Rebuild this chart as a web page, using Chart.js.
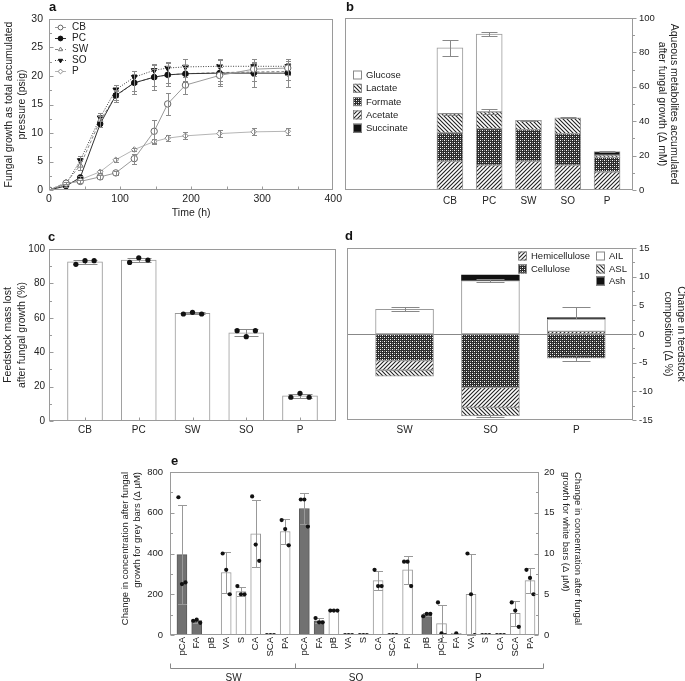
<!DOCTYPE html>
<html><head><meta charset="utf-8">
<script src="https://cdn.jsdelivr.net/npm/chart.js@4.4.0/dist/chart.umd.min.js"></script>
<style>
html,body{margin:0;padding:0;background:#fff;width:685px;height:681px;overflow:hidden;position:relative;font-family:'Liberation Sans',Arial,sans-serif}
canvas{position:absolute}
.lbl{position:absolute;font-weight:bold;font-size:13px;color:#111;line-height:13px}
</style></head><body>
<canvas id="ca" style="left:0;top:0;width:345px;height:225px" width="345" height="225"></canvas>
<canvas id="cb" style="left:340px;top:0;width:345px;height:225px" width="345" height="225"></canvas>
<canvas id="cc" style="left:0;top:225px;width:345px;height:215px" width="345" height="215"></canvas>
<canvas id="cd" style="left:340px;top:225px;width:345px;height:215px" width="345" height="215"></canvas>
<canvas id="ce" style="left:100px;top:450px;width:495px;height:231px" width="495" height="231"></canvas>
<div class="lbl" style="left:49px;top:0px">a</div>
<div class="lbl" style="left:346px;top:0px">b</div>
<div class="lbl" style="left:48px;top:230px">c</div>
<div class="lbl" style="left:345px;top:229px">d</div>
<div class="lbl" style="left:171px;top:454px">e</div>
<script>
// ---------------- DATA ----------------
// Panel a
const timeH = [0,24,44,72,94,120,148,167,192,240,288,336];
const aCB = [0,1.2,1.5,2.3,3.0,5.5,10.3,15.1,18.4,20.1,21.2,21.4];
const aPC = [0,0.7,2.2,11.6,16.6,18.8,19.8,20.2,20.4,20.5,20.5,20.5];
const aSW = [0,1.3,4.3,12.2,16.5,18.8,19.8,20.2,20.4,20.6,20.7,20.8];
const aSO = [0,1.0,5.2,12.7,17.6,19.8,21.0,21.4,21.6,21.7,21.7,21.7];
const aP  = [0,1.0,1.8,3.2,5.3,7.1,8.5,9.1,9.5,9.9,10.2,10.3];
const aCBerr = [0,0.2,0.3,0.3,0.3,0.9,2.0,2.0,1.5,1.5,1.2,1.2];
const aPCerr = [0,0.2,0.3,0.5,0.8,2.0,2.3,2.0,1.5,2.3,2.5,2.5];
const aSWerr = [0,0.2,0.8,0.8,1.0,1.5,1.5,1.5,1.2,1.5,1.5,1.5];
const aSOerr = [0,0.2,0.8,0.8,0.8,1.0,1.0,1.0,1.3,1.3,1.3,1.3];
const aPerr  = [0,0.2,0.3,0.3,0.3,0.3,0.5,0.5,0.6,0.6,0.6,0.6];
// Panel b
const bCats = ['CB','PC','SW','SO','P'];
const bAcetate   = [16.8,14.5,16.8,14.5,10.6];
const bFormate   = [16.4,21.2,18.3,18.3,8.4];
const bLactate   = [11.2,9.7,5.4,9.1,1.3];
const bSuccinate = [0,0,0,0,2.0];
const bGlucose   = [38.2,45.3,0,0,0];
const bLactateErr   = [0.6,1.5,0.4,0.3,0];
const bSuccinateErr = [0,0,0,0,0.3];
const bGlucoseErr   = [4.8,1.3,0,0,0];
// Panel c
const cCats = ['CB','PC','SW','SO','P'];
const cReps = [[91.1,93.2,93.2],[92.2,94.9,93.6],[62.2,63.2,62.2],[52.5,49.0,52.5],[13.8,16.1,13.8]];
// Panel d
const dCats = ['SW','SO','P'];
const dCellulose = [-4.65,-9.3,-4.2];
const dHemi      = [-1.65,-3.5,0.45];
const dASL       = [-1.05,-1.5,0];
const dAIL       = [4.3,9.3,2.15];
const dAsh       = [0,1.0,0.25];
const dCelluloseErr = [0,0,0.5];
const dASLErr       = [0,0.2,0];
const dAILErr       = [0.35,0.3,0];
const dAshErr       = [0,0,1.9];
// Panel e
const eGroups = ['SW','SO','P'];
const eCompounds = [
  ['pCA','FA','pB','VA','S','CA','SCA','PA'],
  ['pCA','FA','pB','VA','S','CA','SCA','PA'],
  ['pB','pCA','FA','VA','S','CA','SCA','PA']
];
const eGrey = [['pCA','FA'],['pCA','FA'],['pB']];
const eRepSW = [[676,250,258],[70,75,60],[],[10,8,5],[6,5,5],[17,11.1,9.1],[0,0,0],[14.1,13,11]];
const eRepSO = [[665,665,532],[83,62,62],[3,3,3],[0,0,0],[0,0,0],[8,6,6],[0,0,0],[9,9,6]];
const eRepP  = [[92,104,104],[4,0.2,0],[0.2],[10,5,0],[0,0,0],[0,0,0],[4,3,1],[8,7,5]];

// ---------------- HELPERS ----------------
Chart.defaults.font.family = "'Liberation Sans', Arial, sans-serif";
Chart.defaults.color = '#222';
Chart.defaults.animation = false;
Chart.defaults.responsive = false;
Chart.defaults.maintainAspectRatio = false;
Chart.defaults.plugins.legend.display = false;
Chart.defaults.plugins.tooltip.enabled = false;
const AX = '#9a9a9a';
const mean = a => a.reduce((s,v)=>s+v,0)/a.length;
const sd = a => { if(a.length<2) return 0; const m=mean(a); return Math.sqrt(a.reduce((s,v)=>s+(v-m)*(v-m),0)/(a.length-1)); };
const noGrid = {display:false, drawTicks:false, offset:false};
const noBorder = {display:false};

function makePattern(canvasId, kind){
  const t = document.createElement('canvas'); const s = 4; t.width = s; t.height = s;
  const g = t.getContext('2d');
  g.fillStyle = '#fff'; g.fillRect(0,0,s,s);
  if(kind==='check'){
    g.fillStyle = '#2b2b2b'; g.fillRect(0,0,s,s);
    g.fillStyle = '#fff'; g.fillRect(0,0,1,1); g.fillRect(2,2,1,1);
    g.fillStyle = '#999'; g.fillRect(2,0,1,1); g.fillRect(0,2,1,1);
  } else {
    g.strokeStyle = '#222'; g.lineWidth = 1.1; g.beginPath();
    if(kind==='fwd'){ g.moveTo(0,s); g.lineTo(s,0); g.moveTo(-1,1); g.lineTo(1,-1); g.moveTo(s-1,s+1); g.lineTo(s+1,s-1); }
    else { g.moveTo(0,0); g.lineTo(s,s); g.moveTo(-1,s-1); g.lineTo(1,s+1); g.moveTo(s-1,-1); g.lineTo(s+1,1); }
    g.stroke();
  }
  return document.getElementById(canvasId).getContext('2d').createPattern(t,'repeat');
}

const errPlugin = {
  id:'errs',
  afterDatasetDraw(chart, args){
    const ds = chart.data.datasets[args.index];
    if(!ds.errors) return;
    const meta = args.meta, ys = chart.scales[meta.yAxisID], ctx = chart.ctx;
    ctx.save(); ctx.strokeStyle = ds.errColor || '#888'; ctx.lineWidth = 1;
    meta.data.forEach((el,i)=>{
      const e = ds.errors[i]; if(!e || el.y==null || isNaN(el.y)) return;
      const v = ys.getValueForPixel(el.y);
      const y1 = Math.round(ys.getPixelForValue(v+e))+0.5, y2 = Math.round(ys.getPixelForValue(v-e))+0.5;
      const x = Math.round(el.x)+0.5, w = ds.capW || 3;
      ctx.beginPath(); ctx.moveTo(x,y1); ctx.lineTo(x,y2);
      ctx.moveTo(x-w,y1); ctx.lineTo(x+w,y1); ctx.moveTo(x-w,y2); ctx.lineTo(x+w,y2); ctx.stroke();
    });
    ctx.restore();
  }
};

function deco(cfg){
  return {
    id:'deco',
    beforeDatasetsDraw(chart){
      if(!cfg.zero) return;
      const {ctx, chartArea:a} = chart; const s = chart.scales[cfg.zero];
      const y = Math.round(s.getPixelForValue(0))+0.5;
      ctx.save(); ctx.strokeStyle = '#888'; ctx.lineWidth = 1;
      ctx.beginPath(); ctx.moveTo(a.left,y); ctx.lineTo(a.right,y); ctx.stroke(); ctx.restore();
    },
    afterDatasetsDraw(chart){
      const {ctx, chartArea:a} = chart;
      ctx.save(); ctx.strokeStyle = AX; ctx.lineWidth = 1;
      const L = Math.round(a.left)+0.5, R = Math.round(a.right)-0.5, T = Math.round(a.top)+0.5, B = Math.round(a.bottom)-0.5;
      ctx.strokeRect(L,T,R-L,B-T);
      (cfg.ticks||[]).forEach(t=>{
        const s = chart.scales[t.id];
        ctx.beginPath();
        if(t.side==='bottom'){
          t.at.forEach(v=>{ const x=Math.round(s.getPixelForValue(v))+0.5; ctx.moveTo(x,B); ctx.lineTo(x,B-t.len); });
        } else {
          for(let v=s.min; v<=s.max+1e-9; v+=t.minor){
            const major = Math.abs(v/t.major-Math.round(v/t.major))<1e-6;
            const len = major?4:2.5;
            const y = Math.round(s.getPixelForValue(v))+0.5;
            if(t.side==='left'){ ctx.moveTo(L,y); ctx.lineTo(L+len,y); }
            else if(t.out){ ctx.moveTo(R,y); ctx.lineTo(R+len,y); }
            else { ctx.moveTo(R,y); ctx.lineTo(R-len,y); }
          }
        }
        ctx.stroke();
      });
      ctx.restore();
      if(cfg.after) cfg.after(chart);
    }
  };
}

function boxLegend(ctx, items, font){
  ctx.save(); ctx.font = font; ctx.textBaseline = 'middle'; ctx.fillStyle = '#222';
  items.forEach(it=>{
    ctx.fillStyle = it.fill; ctx.fillRect(it.x, it.y-4.5, 9, 9);
    ctx.strokeStyle = '#888'; ctx.lineWidth = 1; ctx.strokeRect(it.x+0.5, it.y-4, 8, 8);
    ctx.fillStyle = '#222'; ctx.fillText(it.label, it.x+13, it.y+0.5);
  });
  ctx.restore();
}

// ---------------- PANEL A ----------------
const aSeries = [
  {label:'CB', data:aCB, err:aCBerr},
  {label:'PC', data:aPC, err:aPCerr},
  {label:'SW', data:aSW, err:aSWerr},
  {label:'SO', data:aSO, err:aSOerr},
  {label:'P',  data:aP,  err:aPerr}
];
const aStyle = {
  CB:{line:'#9a9a9a', dash:[],    ps:'circle',   rot:0,   fill:'#fff', stroke:'#666', r:3.2},
  PC:{line:'#333',    dash:[],    ps:'circle',   rot:0,   fill:'#111', stroke:'#111', r:2.8},
  SW:{line:'#888',    dash:[3,2], ps:'triangle', rot:0,   fill:'#fff', stroke:'#777', r:3.3},
  SO:{line:'#444',    dash:[1,1.5], ps:'triangle', rot:180, fill:'#111', stroke:'#111', r:3.3},
  P: {line:'#b5b5b5', dash:[],    ps:'rectRot',  rot:0,   fill:'#fff', stroke:'#888', r:2.8}
};
new Chart(document.getElementById('ca'), {
  type:'line',
  data:{datasets: aSeries.map(s=>{const st=aStyle[s.label]; return {
    label:s.label, data:timeH.map((t,i)=>({x:t,y:s.data[i]})), errors:s.err, errColor:'#8a8a8a', capW:2.5,
    borderColor:st.line, borderWidth:1, borderDash:st.dash, pointStyle:st.ps, pointRotation:st.rot,
    pointRadius:st.r, pointBackgroundColor:st.fill, pointBorderColor:st.stroke, pointBorderWidth:1, fill:false, tension:0};})},
  options:{
    layout:{padding:{left:0,top:19,right:10,bottom:0}},
    scales:{
      x:{type:'linear', min:0, max:400, afterFit:s=>{s.height=35;}, grid:noGrid, border:noBorder,
         ticks:{stepSize:100, padding:3, font:{size:10.5}},
         title:{display:true, text:'Time (h)', font:{size:10.5}, padding:{top:0,bottom:5.5}}},
      y:{min:0, max:30, afterFit:s=>{s.width=49;}, grid:noGrid, border:noBorder,
         ticks:{stepSize:5, padding:6, font:{size:10.5}},
         title:{display:true, text:['Fungal growth as total accumulated','pressure (psig)'], font:{size:10.5, lineHeight:1.25}, padding:{top:2.7,bottom:0}}}
    }
  },
  plugins:[errPlugin, deco({ticks:[{id:'y',side:'left',major:5,minor:2.5},{id:'x',side:'bottom',at:[50,100,150,200,250,300,350],len:3}],
    after(chart){
      const ctx=chart.ctx, a=chart.chartArea;
      ctx.save(); ctx.font='10px "Liberation Sans", Arial, sans-serif'; ctx.textBaseline='middle';
      chart.data.datasets.forEach((ds,i)=>{
        const y = a.top+8+i*11;
        ctx.strokeStyle=ds.borderColor; ctx.lineWidth=1; ctx.setLineDash(ds.borderDash);
        ctx.beginPath(); ctx.moveTo(a.left+6,y+0.5); ctx.lineTo(a.left+17,y+0.5); ctx.stroke(); ctx.setLineDash([]);
        ctx.fillStyle=ds.pointBackgroundColor; ctx.strokeStyle=ds.pointBorderColor;
        Chart.helpers.drawPoint(ctx,{pointStyle:ds.pointStyle, rotation:ds.pointRotation, radius:2.4, borderWidth:1}, a.left+11.5, y+0.5);
        ctx.fillStyle='#222'; ctx.fillText(ds.label, a.left+23, y+0.5);
      });
      ctx.restore();
    }})]
});

// ---------------- PANEL B ----------------
const bPat = {fwd:makePattern('cb','fwd'), back:makePattern('cb','back'), check:makePattern('cb','check')};
const bPos = i => i+3;
const bSeries = [
  {label:'Acetate',   data:bAcetate,   err:null,          fill:bPat.fwd},
  {label:'Formate',   data:bFormate,   err:null,          fill:bPat.check},
  {label:'Lactate',   data:bLactate,   err:bLactateErr,   fill:bPat.back},
  {label:'Succinate', data:bSuccinate, err:bSuccinateErr, fill:'#111'},
  {label:'Glucose',   data:bGlucose,   err:bGlucoseErr,   fill:'#fff'}
];
new Chart(document.getElementById('cb'), {
  type:'bar',
  data:{datasets: bSeries.map(s=>{
    const pts=[], errs=[];
    s.data.forEach((v,i)=>{ if(v){ pts.push({x:bPos(i),y:v}); errs.push(s.err?s.err[i]:0);} });
    return {label:s.label, data:pts, errors:errs, capW:8, errColor:'#888', backgroundColor:s.fill,
      borderColor:'#999', borderWidth:1, borderSkipped:false, barThickness:26};
  })},
  options:{
    layout:{padding:{left:5,top:18,right:0,bottom:0}},
    scales:{
      x:{type:'linear', offset:false, min:0.33, max:7.66, stacked:true, afterFit:s=>{s.height=35;}, grid:noGrid, border:noBorder,
         afterBuildTicks:s=>{s.ticks=bCats.map((c,i)=>({value:bPos(i)}));},
         ticks:{autoSkip:false, maxRotation:0, padding:5, font:{size:10}, callback:(v,i)=>bCats[i]}},
      y:{position:'right', min:0, max:100, stacked:true, afterFit:s=>{s.width=52;}, grid:noGrid, border:noBorder,
         ticks:{stepSize:20, padding:6, font:{size:9.5}},
         title:{display:true, text:['Aqueous metabolites accumulated','after fungal growth (Δ mM)'], font:{size:10.5, lineHeight:1.15}, padding:{top:5.4,bottom:0}}}
    }
  },
  plugins:[errPlugin, deco({ticks:[{id:'y',side:'right',out:true,major:20,minor:10}],
    after(chart){
      const a=chart.chartArea, ds=chart.data.datasets; const f = l=>ds.find(d=>d.label===l).backgroundColor;
      const order=['Glucose','Lactate','Formate','Acetate','Succinate'];
      boxLegend(chart.ctx, order.map((l,i)=>({label:l, fill:f(l), x:a.left+8, y:a.top+57+i*13.3})), '9.5px "Liberation Sans", Arial, sans-serif');
    }})]
});

// ---------------- PANEL C ----------------
const cMeans = cReps.map(mean), cSD = cReps.map(sd);
const cOff = [-0.17,0,0.17];
new Chart(document.getElementById('cc'), {
  type:'bar',
  data:{datasets:[
    {type:'scatter', data:cReps.flatMap((r,i)=>r.map((v,k)=>({x:i+1+cOff[k], y:v}))), pointRadius:2.6,
     pointBackgroundColor:'#111', pointBorderColor:'#111', pointBorderWidth:0},
    {label:'mass lost', data:cMeans.map((v,i)=>({x:i+1,y:v})), errors:cSD, capW:12, errColor:'#888',
     backgroundColor:'#fff', borderColor:'#999', borderWidth:1, borderSkipped:false, barThickness:35}
  ]},
  options:{
    layout:{padding:{left:0,top:24,right:9,bottom:0}},
    scales:{
      x:{type:'linear', offset:false, min:0.33, max:5.67, afterFit:s=>{s.height=19;}, grid:noGrid, border:noBorder,
         afterBuildTicks:s=>{s.ticks=cCats.map((c,i)=>({value:i+1}));},
         ticks:{autoSkip:false, maxRotation:0, padding:3, font:{size:10}, callback:(v,i)=>cCats[i]}},
      y:{min:0, max:100, afterFit:s=>{s.width=49;}, grid:noGrid, border:noBorder,
         ticks:{stepSize:20, padding:4, font:{size:10}},
         title:{display:true, text:['Feedstock mass lost','after fungal growth (%)'], font:{size:10.5, lineHeight:1.25}, padding:{top:2,bottom:0}}}
    }
  },
  plugins:[errPlugin, deco({ticks:[{id:'y',side:'left',major:20,minor:10},{id:'x',side:'bottom',at:[1,2,3,4,5],len:3}]})]
});

// ---------------- PANEL D ----------------
const dPat = {fwd:makePattern('cd','fwd'), back:makePattern('cd','back'), check:makePattern('cd','check')};
const dSeries = [
  {label:'Cellulose',     data:dCellulose, err:dCelluloseErr, fill:dPat.check},
  {label:'Hemicellulose', data:dHemi,      err:null,          fill:dPat.fwd},
  {label:'ASL',           data:dASL,       err:dASLErr,       fill:dPat.back},
  {label:'AIL',           data:dAIL,       err:dAILErr,       fill:'#fff'},
  {label:'Ash',           data:dAsh,       err:dAshErr,       fill:'#111'}
];
new Chart(document.getElementById('cd'), {
  type:'bar',
  data:{datasets: dSeries.map(s=>{
    const pts=[], errs=[];
    s.data.forEach((v,i)=>{ if(v){ pts.push({x:i+1,y:v}); errs.push(s.err?s.err[i]:0);} });
    return {label:s.label, data:pts, errors:errs, capW:14, errColor:'#888', backgroundColor:s.fill,
      borderColor:s.fill==='#111'?'#111':'#999', borderWidth:1, borderSkipped:false, barThickness:58};
  })},
  options:{
    layout:{padding:{left:7,top:23,right:0,bottom:0}},
    scales:{
      x:{type:'linear', offset:false, min:0.33, max:3.66, stacked:true, afterFit:s=>{s.height=20;}, grid:noGrid, border:noBorder,
         afterBuildTicks:s=>{s.ticks=dCats.map((c,i)=>({value:i+1}));},
         ticks:{autoSkip:false, maxRotation:0, padding:4, font:{size:10}, callback:(v,i)=>dCats[i]}},
      y:{position:'right', min:-15, max:15, stacked:true, afterFit:s=>{s.width=52;}, grid:noGrid, border:noBorder,
         ticks:{stepSize:5, padding:6, font:{size:9.5}},
         title:{display:true, text:['Change in feedstock','composition (Δ %)'], font:{size:10.5, lineHeight:1.15}, padding:{top:-1.5,bottom:0}}}
    }
  },
  plugins:[errPlugin, deco({zero:'y', ticks:[{id:'y',side:'right',out:true,major:5,minor:2.5}],
    after(chart){
      const a=chart.chartArea, ds=chart.data.datasets; const f = l=>ds.find(d=>d.label===l).backgroundColor;
      const font='9.5px "Liberation Sans", Arial, sans-serif';
      boxLegend(chart.ctx, [
        {label:'Hemicellulose', fill:f('Hemicellulose'), x:a.left+171, y:a.top+8},
        {label:'Cellulose', fill:f('Cellulose'), x:a.left+171, y:a.top+21},
        {label:'AIL', fill:f('AIL'), x:a.left+249, y:a.top+8},
        {label:'ASL', fill:f('ASL'), x:a.left+249, y:a.top+21},
        {label:'Ash', fill:f('Ash'), x:a.left+249, y:a.top+33}
      ], font);
    }})]
});

// ---------------- PANEL E ----------------
const GAP = 0.3;
const eTicks=[], eLabels=[], greyBars=[], greyErr=[], whiteBars=[], whiteErr=[], greyPts=[], whitePts=[];
[eRepSW,eRepSO,eRepP].forEach((reps,g)=>{
  reps.forEach((r,i)=>{
    const x = g*(8+GAP)+i;
    eTicks.push(x); eLabels.push(eCompounds[g][i]);
    if(!r.length) return;
    const isGrey = eGrey[g].includes(eCompounds[g][i]);
    const m = mean(r);
    if(m>0){ (isGrey?greyBars:whiteBars).push({x,y:m}); (isGrey?greyErr:whiteErr).push(sd(r)); }
    const offs = r.length===3?[-0.24,0,0.24]:[0];
    r.forEach((v,k)=>(isGrey?greyPts:whitePts).push({x:x+offs[k], y:v}));
  });
});
const groupSpan = g => [g*(8+GAP), g*(8+GAP)+7];
new Chart(document.getElementById('ce'), {
  type:'bar',
  data:{datasets:[
    {type:'scatter', yAxisID:'y', data:greyPts, pointRadius:2.1, pointBackgroundColor:'#111', pointBorderWidth:0},
    {type:'scatter', yAxisID:'y2', data:whitePts, pointRadius:2.1, pointBackgroundColor:'#111', pointBorderWidth:0},
    {label:'grey', yAxisID:'y', data:greyBars, errors:greyErr, capW:4.5, errColor:'#999',
     backgroundColor:'#717171', borderColor:'#5a5a5a', borderWidth:1, borderSkipped:false, barThickness:10},
    {label:'white', yAxisID:'y2', data:whiteBars, errors:whiteErr, capW:4.5, errColor:'#999',
     backgroundColor:'#fff', borderColor:'#999', borderWidth:1, borderSkipped:false, barThickness:10}
  ]},
  options:{
    layout:{padding:{left:15,top:22,right:9,bottom:0}},
    scales:{
      x:{type:'linear', offset:false, min:-0.81, max:24.21, stacked:true, afterFit:s=>{s.height=46;}, grid:noGrid, border:noBorder,
         afterBuildTicks:s=>{s.ticks=eTicks.map(v=>({value:v}));},
         ticks:{autoSkip:false, minRotation:90, maxRotation:90, padding:2, font:{size:9.5}, callback:(v,i)=>eLabels[i]}},
      y:{position:'left', min:0, max:800, afterFit:s=>{s.width=55;}, grid:noGrid, border:noBorder,
         ticks:{stepSize:200, padding:7, font:{size:9.5}},
         title:{display:true, align:'end', text:['Change in concentration after fungal','growth for grey bars (Δ µM)'], font:{size:9.5, lineHeight:1.3}, padding:{top:4,bottom:0}}},
      y2:{position:'right', min:0, max:20, afterFit:s=>{s.width=47;}, grid:noGrid, border:noBorder,
         ticks:{stepSize:5, padding:5, font:{size:9.5}},
         title:{display:true, align:'end', text:['Change in concentration after fungal','growth for white bars (Δ µM)'], font:{size:9.5, lineHeight:1.3}, padding:{top:1.8,bottom:0}}}
    }
  },
  plugins:[errPlugin, deco({ticks:[{id:'y',side:'left',major:200,minor:100},{id:'y2',side:'right',major:5,minor:2.5}],
    after(chart){
      const ctx=chart.ctx, a=chart.chartArea, xs=chart.scales.x;
      const yb = Math.round(a.bottom)+33.5;
      ctx.save(); ctx.strokeStyle='#888'; ctx.lineWidth=1;
      const sep1 = (xs.getPixelForValue(groupSpan(0)[1])+xs.getPixelForValue(groupSpan(1)[0]))/2;
      const sep2 = (xs.getPixelForValue(groupSpan(1)[1])+xs.getPixelForValue(groupSpan(2)[0]))/2;
      const xl = Math.round(a.left)+0.5, xr = Math.round(a.right)+4.5;
      ctx.beginPath(); ctx.moveTo(xl,yb); ctx.lineTo(xr,yb);
      [xl, Math.round(sep1)+0.5, Math.round(sep2)+0.5, xr].forEach(x=>{ctx.moveTo(x,yb); ctx.lineTo(x,yb-5);});
      ctx.stroke();
      ctx.fillStyle='#222'; ctx.font='10px "Liberation Sans", Arial, sans-serif'; ctx.textAlign='center'; ctx.textBaseline='middle';
      eGroups.forEach((gname,g)=>{
        const sp=groupSpan(g); const cx=(xs.getPixelForValue(sp[0])+xs.getPixelForValue(sp[1]))/2;
        ctx.fillText(gname, cx, yb+10);
      });
      ctx.restore();
    }})]
});
</script>
</body></html>
